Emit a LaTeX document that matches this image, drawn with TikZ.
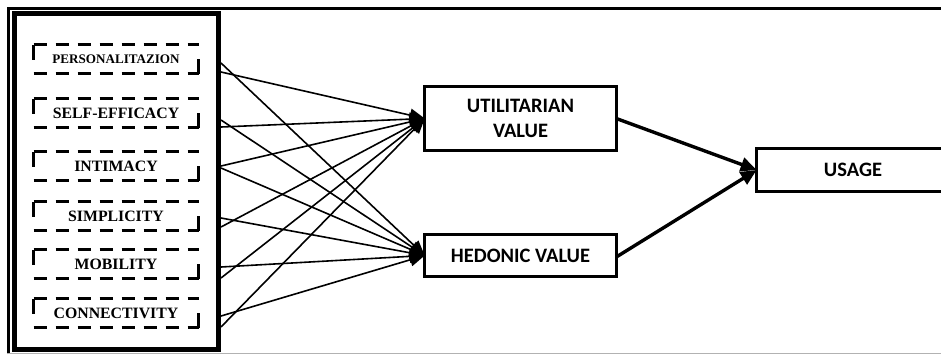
\documentclass[tikz,border=0pt]{standalone}
\usepackage{fontspec}
\setmainfont{Liberation Serif}
\newfontfamily\labelfont{Carlito}
\usetikzlibrary{arrows.meta}
\tikzset{
  factor/.style={minimum width=165pt, minimum height=29pt, inner sep=0pt, outer sep=0pt,
    font=\fontsize{15.8}{18}\selectfont\bfseries},
  dashedge/.style={line width=3.2pt, dash pattern=on 13pt off 9pt},
  solidedge/.style={line width=3.2pt},
  valuebox/.style={draw, line width=3.3pt, inner sep=0pt, outer sep=0pt, align=center,
    font=\labelfont\fontsize{20.5}{25}\selectfont\bfseries},
  link/.style={line width=1.6pt, -{Triangle[length=15pt,width=13pt]}},
  flow/.style={line width=3.4pt, -{Triangle[length=16pt,width=14pt]}}
}
\begin{document}
\begin{tikzpicture}[x=1pt, y=-1pt]
  \useasboundingbox (0,0) rectangle (941,354);
  \clip (0,0) rectangle (941,354);

  % page frame
  \draw[line width=3pt] (8.5,354) -- (8.5,8.5) -- (960,8.5);
  \draw[gray!60, line width=1pt] (7,353.5) -- (960,353.5);

  % container of the six factors
  \node[draw, line width=5pt, minimum width=204pt, minimum height=336pt,
        inner sep=0pt, outer sep=0pt] (frame) at (116.5,181.5) {};

  % factor boxes: dashed top and bottom, one short stroke on each side
  \foreach \name/\yy/\txt/\fs in {
      f1/59/PERSONALITAZION/13.1,
      f2/113/SELF-EFFICACY/15.8,
      f3/166/INTIMACY/15.8,
      f4/216/SIMPLICITY/15.8,
      f5/264/MOBILITY/15.8,
      f6/313/CONNECTIVITY/15.8}{
    \node[factor, font=\fontsize{\fs}{18}\selectfont\bfseries] (\name) at (116,\yy) {\txt};
    \draw[dashedge] (\name.north west) -- (\name.north east);
    \draw[dashedge] (\name.south west) -- (\name.south east);
    \draw[solidedge] (\name.north west) -- ++(0,15);
    \draw[solidedge] (\name.south east) -- ++(0,-15);
  }

  % value boxes and outcome
  \node[valuebox, minimum width=191.6pt, minimum height=63.6pt] (util) at (520.5,118.5) {UTILITARIAN\\VALUE};
  \node[valuebox, minimum width=191.6pt, minimum height=41.6pt] (hed) at (520.5,255.5) {HEDONIC VALUE};
  \node[valuebox, minimum width=192.6pt, minimum height=42.6pt] (usage) at (853,170) {USAGE};

  % start points of the paths on the container's right side
  \coordinate (s1u) at (221,72);  \coordinate (s1h) at (221,63);
  \coordinate (s2u) at (221,127); \coordinate (s2h) at (221,120);
  \coordinate (s3u) at (221,166); \coordinate (s3h) at (221,168);
  \coordinate (s4u) at (221,227); \coordinate (s4h) at (221,218);
  \coordinate (s5u) at (221,278); \coordinate (s5h) at (221,267);
  \coordinate (s6u) at (221,327); \coordinate (s6h) at (221,316);

  \foreach \i in {1,...,6}{
    \draw[link] (s\i u) -- (util.west);
    \draw[link] (s\i h) -- (hed.west);
  }

  \draw[flow] (util.east) -- (usage.west);
  \draw[flow] ([yshift=-1.5pt]hed.east) -- (usage.west);
\end{tikzpicture}
\end{document}
